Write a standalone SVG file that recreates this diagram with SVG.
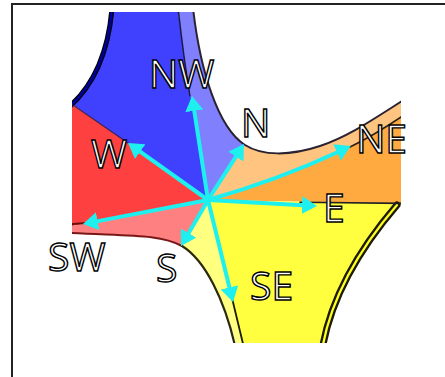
<svg xmlns="http://www.w3.org/2000/svg" width="445" height="377" viewBox="0 0 445 377">
<style>
.edge{fill:none;stroke-linecap:round;stroke-linejoin:round}
.arr{fill:none;stroke:#1EEFEF;stroke-width:4;marker-end:url(#ah)}
.lbl{font-family:"Open Sans","DejaVu Sans",sans-serif;font-size:39px;fill:#fff;stroke:#000;stroke-width:1.4}
</style>
<defs>
<clipPath id="clip"><rect x="72" y="12" width="329" height="331"/></clipPath>
<filter id="soft" x="-5%" y="-5%" width="110%" height="110%"><feGaussianBlur stdDeviation="0.6"/></filter>
<marker id="ah" markerUnits="userSpaceOnUse" markerWidth="15" markerHeight="18" viewBox="0 0 15 18" refX="1" refY="9" orient="auto"><path d="M0,0 L15,9 L0,18 Z" fill="#1EEFEF"/></marker>
</defs>
<rect width="445" height="377" fill="#fff"/>
<rect x="12" y="4" width="440" height="380" fill="none" stroke="#222" stroke-width="2"/>
<g id="surface" clip-path="url(#clip)">
<g filter="url(#soft)">
<path id="red" d="M208,200 L60,95.5 L60,228.3 Z" fill="#FF4040"/>
<path id="blue" d="M208,200 L72,104 C98,82 109,45 112,12 L112,0 L178,0 L178,12 Q192,110 208,200 Z" fill="#4040FF"/>
<path id="lightblue" d="M208,200 L245,145 C218,128 200,70 193,12 L193,0 L178,0 L178,12 Q192,110 208,200 Z" fill="#8080FF"/>
<path id="lightorange" d="M208,200 Q280,178 350,147 Q375,135 402,116 L410,111 L410,96 L402,101 C375,118 350,136 320,146 C290,156 262,156 245,145 Z" fill="#FFC480"/>
<path id="orange" d="M208,200 L410,203.5 L410,111 L402,116 Q375,135 350,147 Q280,178 208,200 Z" fill="#FFAA40"/>
<path id="yellow" d="M208,200 L246,355 L323,355 L325,343 C335,290 370,240 400,205 L410,203.5 Z" fill="#FFFF40"/>
<path id="lightyellow" d="M208,200 L182,246 C205,260 225,300 236,343 L236,355 L246,355 Z" fill="#FFFF80"/>
<path id="pink" d="M208,200 L60,228.3 L60,233 L72,233 C130,236 160,234 182,246 Z" fill="#FF8080"/>
<path class="edge" d="M112,8 C109,45 98,82 68,108" stroke="#000" stroke-width="5"/>
<path class="edge" d="M112,8 C109,45 98,82 68,108" stroke="#0000A0" stroke-width="2.5"/>
<path class="edge" d="M193,8 C200,70 218,128 245,145 C262,156 290,156 320,146 C350,136 375,118 410,96" stroke="#2A2430" stroke-width="2"/>
<path class="edge" d="M60,233 L72,233 C130,236 160,234 182,246" stroke="#7A1818" stroke-width="2"/>
<path class="edge" d="M182,246 C205,260 225,300 236,350" stroke="#2A2A10" stroke-width="2.2"/>
<path class="edge" d="M397,205 C367,240 332,290 322,350" stroke="#1A1A00" stroke-width="7"/>
<path class="edge" d="M397,205 C367,240 332,290 322,350" stroke="#FFFF20" stroke-width="2.3"/>
<path class="edge" d="M178,8 Q184,60 190,96" stroke="#1A1A40" stroke-width="1.5"/>
<path class="edge" d="M70,103 L128,143" stroke="#301838" stroke-width="1.4" opacity="0.8"/>
<path class="edge" d="M350,147 Q375,135 410,111" stroke="#2A2010" stroke-width="1.8"/>
<path class="edge" d="M300,202.3 L410,203.5" stroke="#222" stroke-width="1.6"/>
<path class="edge" d="M232,298 L245,352" stroke="#1A1A00" stroke-width="1.8"/>
<path class="edge" d="M62,225 L86,223" stroke="#6A1010" stroke-width="2"/>
</g>
</g>
<g id="connectors">
<path class="arr" d="M208,200 L194.1,109.8"/>
<path class="arr" d="M208,200 L236.4,155.8"/>
<path class="arr" d="M208,200 Q278,180 338,152"/>
<path class="arr" d="M208,200 L303,205.2"/>
<path class="arr" d="M208,200 L229.7,288.4"/>
<path class="arr" d="M208,200 L188.1,233.9"/>
<path class="arr" d="M208,200 L96.7,221.4"/>
<path class="arr" d="M208,200 L139.4,151.1"/>
</g>
<g id="label-NW"><text class="lbl" x="149" y="88">NW</text></g>
<g id="label-N"><text class="lbl" x="241" y="137">N</text></g>
<g id="label-NE"><text class="lbl" x="356" y="153">NE</text></g>
<g id="label-W"><text class="lbl" x="91" y="168">W</text></g>
<g id="label-E"><text class="lbl" x="323" y="221.5">E</text></g>
<g id="label-SW"><text class="lbl" x="48" y="270.5">SW</text></g>
<g id="label-S"><text class="lbl" x="156" y="282">S</text></g>
<g id="label-SE"><text class="lbl" x="250" y="299.5">SE</text></g>
</svg>
